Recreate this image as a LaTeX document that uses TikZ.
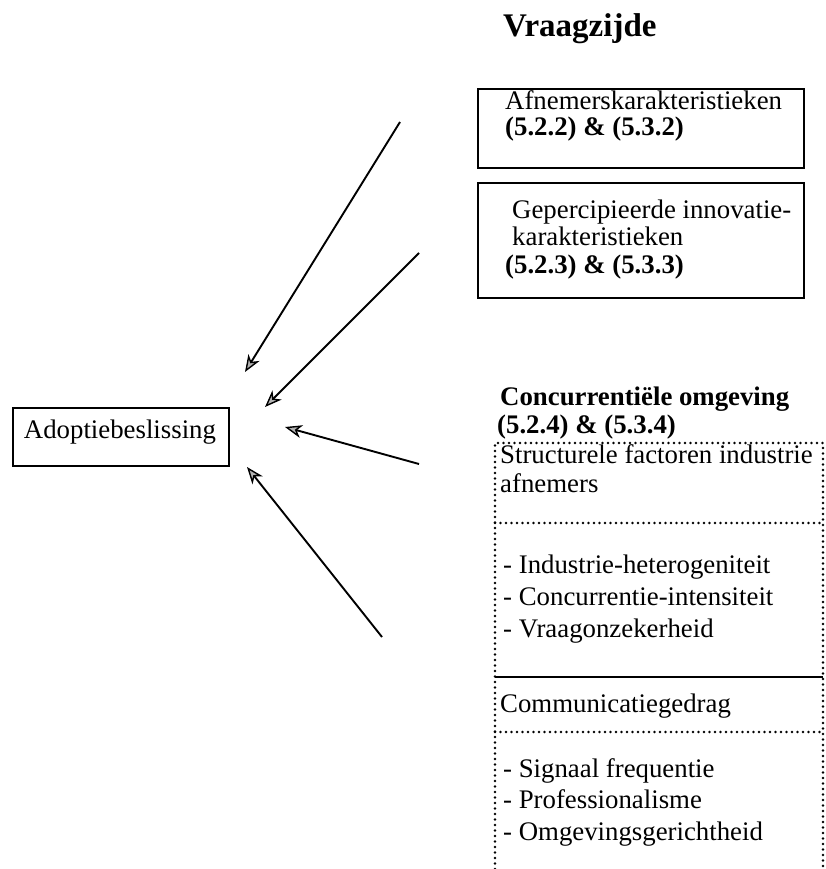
\documentclass[tikz,border=0pt]{standalone}
\usepackage{fontspec}
\setmainfont{Liberation Serif}
\usetikzlibrary{arrows.meta}
\begin{document}
\begin{tikzpicture}[x=1pt,y=-1pt,
  txt/.style={anchor=base west,inner sep=0pt,font=\fontsize{26.8}{29}\selectfont},
  btxt/.style={txt,font=\fontsize{26.8}{29}\selectfont\bfseries},
  solidbox/.style={draw,line width=1.8pt,inner sep=0pt,anchor=north west},
  dotline/.style={line width=2.6pt,line cap=round,dash pattern=on 0pt off 5.5pt},
  arr/.style={line width=1.9pt,-{Stealth[length=17pt,width=13pt,inset=5pt,fill=gray!60,line width=1.4pt]}}
]
\useasboundingbox (0,0) rectangle (826,869);
% title
\node[anchor=base west,inner sep=0pt,font=\fontsize{33}{36}\selectfont\bfseries] (title) at (503,37) {Vraagzijde};
% box 1
\node[solidbox,minimum width=326pt,minimum height=79pt] (b1) at (477,88) {};
\node[txt] (b1a) at (505,110) {Afnemerskarakteristieken};
\node[btxt] (b1b) at (505,136) {(5.2.2) \& (5.3.2)};
% box 2
\node[solidbox,minimum width=326pt,minimum height=115pt] (b2) at (477,182) {};
\node[txt] (b2a) at (512,218) {Gepercipieerde innovatie-};
\node[txt] (b2b) at (512,245) {karakteristieken};
\node[btxt] (b2c) at (505,273) {(5.2.3) \& (5.3.3)};
% adoption box
\node[draw,line width=1.8pt,minimum width=216pt,minimum height=58pt,inner sep=0pt,anchor=north west] (ad) at (12,407) {};
\node[txt,anchor=base] (adt) at (120,438) {Adoptiebeslissing};
% competitive environment
\node[btxt] (c1) at (500,405) {Concurrentiële omgeving};
\node[btxt] (c2) at (497,433) {(5.2.4) \& (5.3.4)};
\coordinate (tl) at (495,443);
\coordinate (tr) at (823,443);
\coordinate (bl) at (495,869);
\coordinate (br) at (823,869);
\draw[dotline] (bl) -- (tl) -- (tr) -- (br);
\coordinate (s1l) at (495,523); \coordinate (s1r) at (823,523);
\coordinate (s2l) at (495,677); \coordinate (s2r) at (823,677);
\coordinate (s3l) at (495,732); \coordinate (s3r) at (823,732);
\draw[dotline] (s1l) -- (s1r);
\draw[line width=1.8pt] (s2l) -- (s2r);
\draw[dotline] (s3l) -- (s3r);
\node[txt] (t1) at (500,463) {Structurele factoren industrie};
\node[txt] (t2) at (500,492) {afnemers};
\node[txt] (t3) at (503,573) {- Industrie-heterogeniteit};
\node[txt] (t4) at (503,605) {- Concurrentie-intensiteit};
\node[txt] (t5) at (503,637) {- Vraagonzekerheid};
\node[txt] (t6) at (500,712) {Communicatiegedrag};
\node[txt] (t7) at (503,777) {- Signaal frequentie};
\node[txt] (t8) at (503,808) {- Professionalisme};
\node[txt] (t9) at (503,840) {- Omgevingsgerichtheid};
% arrows
\coordinate (a1s) at (400,122); \coordinate (a1e) at (245,372);
\coordinate (a2s) at (419,253); \coordinate (a2e) at (265,407);
\coordinate (a3s) at (419,464); \coordinate (a3e) at (285,427);
\coordinate (a4s) at (382,637); \coordinate (a4e) at (247,467);
\draw[arr] (a1s) -- (a1e);
\draw[arr] (a2s) -- (a2e);
\draw[arr] (a3s) -- (a3e);
\draw[arr] (a4s) -- (a4e);
\end{tikzpicture}
\end{document}
